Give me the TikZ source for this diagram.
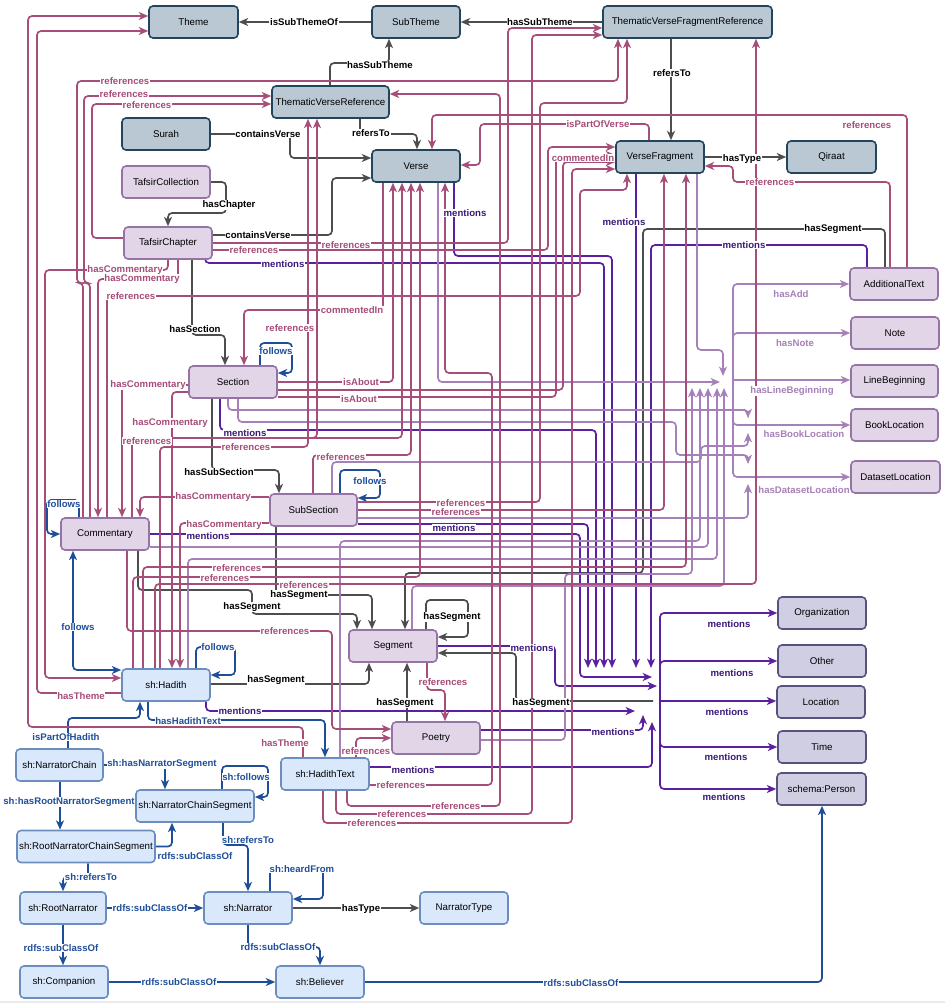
\documentclass[tikz,border=0pt]{standalone}
\usepackage{fontspec}
\setmainfont{Liberation Sans}
\usetikzlibrary{arrows.meta}
\pgfdeclarelayer{back0}
\pgfdeclarelayer{background}
\pgfsetlayers{back0,background,main}
\definecolor{cg}{HTML}{4D4D4D}
\definecolor{cr}{HTML}{A64D79}
\definecolor{cm}{HTML}{5B20A0}
\definecolor{cmt}{HTML}{3B1A7A}
\definecolor{cl}{HTML}{A680B8}
\definecolor{cb}{HTML}{1F4E99}
\definecolor{bgF}{HTML}{BAC8D3}\definecolor{bgD}{HTML}{23445D}
\definecolor{puF}{HTML}{E1D5E7}\definecolor{puD}{HTML}{9673A6}
\definecolor{lbF}{HTML}{DAE8FC}\definecolor{lbD}{HTML}{6C8EBF}
\definecolor{enF}{HTML}{D0CEE2}\definecolor{enD}{HTML}{56517E}
\definecolor{stripc}{HTML}{EBEBEB}
\newcommand\ndfont{\fontsize{7.3}{8.6}\selectfont}
\newcommand\lbfont{\fontsize{7.2}{8.6}\selectfont\bfseries}
\tikzset{
  nbox/.style={rounded corners=3pt, line width=1.2pt, minimum height=24pt, inner sep=1pt, font=\ndfont, text=black},
  bgn/.style={nbox, draw=bgD, fill=bgF},
  pun/.style={nbox, draw=puD, fill=puF},
  lbn/.style={nbox, draw=lbD, fill=lbF},
  enn/.style={nbox, draw=enD, fill=enF},
  tipx/.tip={Stealth[length=7pt,width=6pt,inset=2pt]},
  cn/.style={line width=1.25pt, rounded corners=3pt, -tipx},
  eg/.style={cn, draw=cg},
  er/.style={cn, draw=cr},
  em/.style={cn, draw=cm},
  el/.style={cn, draw=cl},
  eb/.style={cn, draw=cb},
  lab/.style={fill=white, inner sep=0.5pt, font=\lbfont},
  lg/.style={lab, text=black},
  lr/.style={lab, text=cr},
  lm/.style={lab, text=cmt},
  ll/.style={lab, text=cl},
  lbb/.style={lab, text=cb}
}
\begin{document}
\begin{tikzpicture}[x=0.75pt,y=-0.75pt]
\useasboundingbox (0,0) rectangle (945,1003);
\begin{pgfonlayer}{back0}
\fill[white] (0,0) rectangle (945,1003);
\fill[stripc] (0,1000.5) rectangle (945,1003);
\end{pgfonlayer}
% ---------- nodes ----------
\node[bgn, minimum width=66.75pt] (Theme) at (193.5,22) {Theme};
\node[bgn, minimum width=66pt] (SubTheme) at (416,22) {SubTheme};
\node[bgn, minimum width=126.75pt] (TVFR) at (687.5,22) {ThematicVerseFragmentReference};
\node[bgn, minimum width=87.75pt] (TVR) at (330.5,102) {ThematicVerseReference};
\node[bgn, minimum width=66pt] (Surah) at (166,134) {Surah};
\node[bgn, minimum width=66pt] (Verse) at (416,166) {Verse};
\node[bgn, minimum width=66pt] (VF) at (660,157) {VerseFragment};
\node[bgn, minimum width=66.75pt] (Qiraat) at (831.5,157) {Qiraat};
\node[pun, minimum width=66pt] (TafsirCollection) at (166,182) {TafsirCollection};
\node[pun, minimum width=66pt] (TafsirChapter) at (168,243) {TafsirChapter};
\node[pun, minimum width=66pt] (AdditionalText) at (894,284) {AdditionalText};
\node[pun, minimum width=66pt] (Note) at (895,333) {Note};
\node[pun, minimum width=65.25pt] (LineBeginning) at (894.5,381) {LineBeginning};
\node[pun, minimum width=65.25pt] (BookLocation) at (894.5,425) {BookLocation};
\node[pun, minimum width=66.75pt] (DatasetLocation) at (895.5,477) {DatasetLocation};
\node[pun, minimum width=66pt] (Section) at (233,382) {Section};
\node[pun, minimum width=65.25pt] (SubSection) at (313.5,510) {SubSection};
\node[pun, minimum width=66pt] (Commentary) at (105,534) {Commentary};
\node[pun, minimum width=66pt] (Segment) at (393,646) {Segment};
\node[pun, minimum width=66pt] (Poetry) at (436,738) {Poetry};
\node[lbn, minimum width=66pt] (Hadith) at (166,685) {sh:Hadith};
\node[lbn, minimum width=66pt] (HadithText) at (325,774) {sh:HadithText};
\node[lbn, minimum width=65.25pt] (NarratorChain) at (59.5,765) {sh:NarratorChain};
\node[lbn, minimum width=88.5pt] (NCS) at (195,806) {sh:NarratorChainSegment};
\node[lbn, minimum width=103.5pt] (RNCS) at (86,846.5) {sh:RootNarratorChainSegment};
\node[lbn, minimum width=64.5pt] (RootNarrator) at (63,908) {sh:RootNarrator};
\node[lbn, minimum width=66pt] (Narrator) at (248,908) {sh:Narrator};
\node[lbn, minimum width=66pt] (NarratorType) at (464,908) {NarratorType};
\node[lbn, minimum width=66pt] (Companion) at (64,982) {sh:Companion};
\node[lbn, minimum width=66pt] (Believer) at (320,982) {sh:Believer};
\node[enn, minimum width=66pt] (Organization) at (822,613) {Organization};
\node[enn, minimum width=66pt] (Other) at (822,661) {Other};
\node[enn, minimum width=66pt] (Location) at (821,702) {Location};
\node[enn, minimum width=66pt] (Time) at (822,747) {Time};
\node[enn, minimum width=66.75pt] (Person) at (821.5,789) {schema:Person};
% hub and free ends
\coordinate (hubM) at (660,701);
\coordinate (hubL) at (733,380);
\coordinate (hubS) at (653,701);
\coordinate (m1) at (612,668);
\coordinate (m2) at (604,668);
\coordinate (m3) at (596,668);
\coordinate (m4) at (588,668);
\coordinate (m5) at (652,677);
\coordinate (m6) at (636,668);
\coordinate (m7) at (651,668);
\coordinate (m8) at (657,686);
\coordinate (m9) at (635,711);
\coordinate (m10) at (643,715);
\coordinate (m11) at (652,722);
\coordinate (v1) at (720,382);
\coordinate (v2) at (723,376);
\coordinate (v3) at (748,418);
\coordinate (v4) at (748,464);
\coordinate (v5) at (748,433);
\coordinate (v6) at (748,484);
\coordinate (v7) at (692,388);
\coordinate (v8) at (700,388);
\coordinate (v9) at (708,388);
\coordinate (v10) at (717,388);
\coordinate (v11) at (724,388);
\begin{pgfonlayer}{background}
% ---------- gray ----------
\draw[eg] (SubTheme.west) -- (Theme.east);
\draw[eg] (TVFR.west) -- (SubTheme.east);
\draw[eg] (TVR.north -| 330,0) -- (330,63) -- (389,63) -- (SubTheme.south -| 389,0);
\draw[eg] (TVFR.south -| 671,0) -- (VF.north -| 671,0);
\draw[eg] (TVR.south -| 360,0) -- (360,134) -- (417,134) -- (Verse.north -| 417,0);
\draw[eg] (Surah.east) -- (290,134) -- (290,158) -- (Verse.west |- 0,158);
\draw[eg] (TafsirCollection.east) -- (226,182) -- (226,213) -- (168,213) -- (TafsirChapter.north);
\draw[eg] (TafsirChapter.east |- 0,235) -- (332,235) -- (332,178) -- (Verse.west |- 0,178);
\draw[eg] (TafsirChapter.south -| 192,0) -- (192,335) -- (225,335) -- (Section.north -| 225,0);
\draw[eg] (Section.south -| 212,0) -- (212,470) -- (279,470) -- (SubSection.north -| 279,0);
\draw[eg] (SubSection.south -| 276,0) -- (276,595) -- (372,595) -- (Segment.north -| 372,0);
\draw[eg] (Commentary.south -| 138,0) -- (138,590) -- (252,590) -- (252,614) -- (357,614) -- (Segment.north -| 357,0);
\draw[eg] (Hadith.east |- 0,684) -- (369,684) -- (Segment.south -| 369,0);
\draw[eg] (Poetry.north -| 407,0) -- (Segment.south -| 407,0);
\draw[eg] (Segment.north -| 426,0) -- (426,600) -- (468,600) -- (468,637) -- (Segment.east |- 0,637);
\draw[eg] (hubS) -- (516,701) -- (516,653) -- (Segment.east |- 0,653);
\draw[eg] (AdditionalText.north -| 885,0) -- (885,229) -- (643,229) -- (643,573) -- (405,573) -- (Segment.north -| 405,0);
\draw[eg] (Narrator.east) -- (NarratorType.west);
\draw[eg] (VF.east) -- (Qiraat.west);
% ---------- blue ----------
\draw[eb] (Section.north -| 260,0) -- (260,343) -- (292,343) -- (292,373) -- (Section.east |- 0,373);
\draw[eb] (SubSection.north -| 340,0) -- (340,470) -- (380,470) -- (380,498) -- (SubSection.east |- 0,498);
\draw[eb] (Commentary.north -| 79,0) -- (79,500) -- (47,500) -- (47,534) -- (Commentary.west);
\draw[eb, tipx-tipx] (Commentary.south -| 73,0) -- (73,670) -- (Hadith.west |- 0,670);
\draw[eb] (Hadith.north -| 196,0) -- (196,647) -- (235,647) -- (235,675) -- (Hadith.east |- 0,675);
\draw[eb] (Hadith.south -| 148,0) -- (148,720) -- (325,720) -- (HadithText.north);
\draw[eb] (NarratorChain.north -| 68,0) -- (68,718) -- (140,718) -- (Hadith.south -| 140,0);
\draw[eb] (NarratorChain.east) -- (165,765) -- (NCS.north -| 165,0);
\draw[eb] (NCS.north -| 222,0) -- (222,766) -- (268,766) -- (268,797) -- (NCS.east |- 0,797);
\draw[eb] (NarratorChain.south -| 60,0) -- (RNCS.north -| 60,0);
\draw[eb] (RNCS.east) -- (172,846.5) -- (NCS.south -| 172,0);
\draw[eb] (NCS.south -| 223,0) -- (223,845) -- (248,845) -- (Narrator.north);
\draw[eb] (RNCS.south -| 88,0) -- (88,877) -- (63,877) -- (RootNarrator.north);
\draw[eb] (Narrator.north -| 270,0) -- (270,868) -- (323,868) -- (323,899) -- (Narrator.east |- 0,899);
\draw[eb] (RootNarrator.east) -- (Narrator.west);
\draw[eb] (RootNarrator.south) -- (Companion.north -| 63,0);
\draw[eb] (Narrator.south) -- (248,947) -- (320,947) -- (Believer.north);
\draw[eb] (Companion.east) -- (Believer.west);
\draw[eb] (Believer.east) -- (822,982) -- (Person.south -| 822,0);
% ---------- mentions ----------
\draw[em] (Verse.south -| 454,0) -- (454,256) -- (612,256) -- (m1);
\draw[em] (TafsirChapter.south -| 205,0) -- (205,263) -- (604,263) -- (m2);
\draw[em] (Section.south -| 220,0) -- (220,430) -- (596,430) -- (m3);
\draw[em] (SubSection.east |- 0,524) -- (588,524) -- (m4);
\draw[em] (Commentary.east) -- (580,534) -- (580,677) -- (m5);
\draw[em] (VF.south -| 636,0) -- (m6);
\draw[em] (AdditionalText.north -| 867,0) -- (867,245) -- (651,245) -- (m7);
\draw[em] (Segment.east |- 0,646) -- (555,646) -- (555,686) -- (m8);
\draw[em] (Hadith.south -| 206,0) -- (206,711) -- (m9);
\draw[em] (Poetry.east |- 0,730) -- (643,730) -- (m10);
\draw[em] (HadithText.east |- 0,767) -- (652,767) -- (m11);
\draw[em] (hubM) -- (660,613) -- (Organization.west);
\draw[em] (hubM) -- (660,661) -- (Other.west);
\draw[em] (hubM) -- (Location.west |- hubM);
\draw[em] (hubM) -- (660,747) -- (Time.west);
\draw[em] (hubM) -- (660,789) -- (Person.west);
% ---------- lavender ----------
\draw[el] (Verse.south -| 438,0) -- (438,382) -- (v1);
\draw[el] (VF.south -| 697,0) -- (697,350) -- (723,350) -- (v2);
\draw[el] (Section.south -| 228,0) -- (228,410) -- (748,410) -- (v3);
\draw[el] (Section.south -| 238,0) -- (238,422) -- (676,422) -- (676,455) -- (748,455) -- (v4);
\draw[el] (SubSection.north -| 332,0) -- (332,462) -- (701,462) -- (701,446) -- (748,446) -- (v5);
\draw[el] (SubSection.east |- 0,518) -- (748,518) -- (v6);
\draw[el] (Poetry.east |- 0,740) -- (565,740) -- (565,574) -- (692,574) -- (v7);
\draw[el] (HadithText.north -| 340,0) -- (340,541) -- (700,541) -- (v8);
\draw[el] (Commentary.east |- 0,547) -- (708,547) -- (v9);
\draw[el] (Hadith.north -| 188,0) -- (188,559) -- (717,559) -- (v10);
\draw[el] (Segment.north -| 412,0) -- (412,586) -- (724,586) -- (v11);
\draw[el] (hubL) -- (733,284) -- (AdditionalText.west);
\draw[el] (hubL) -- (733,333) -- (Note.west);
\draw[el] (hubL) -- (LineBeginning.west |- hubL);
\draw[el] (hubL) -- (733,425) -- (BookLocation.west);
\draw[el] (hubL) -- (733,477) -- (DatasetLocation.west);
% ---------- magenta ----------
\draw[er] (HadithText.north -| 303,0) -- (303,727) -- (28,727) -- (28,16) -- (Theme.west |- 0,16);
\draw[er] (Hadith.west |- 0,693) -- (37,693) -- (37,31) -- (Theme.west |- 0,31);
\draw[er] (Commentary.north -| 83,0) -- (83,283) -- (77,283) -- (77,81) -- (618,81) -- (TVFR.south -| 618,0);
\draw[er] (Commentary.north -| 90,0) -- (90,283) -- (84,283) -- (84,96) -- (TVR.west |- 0,96);
\draw[er] (TafsirChapter.west |- 0,238) -- (92,238) -- (92,104) -- (TVR.west |- 0,104);
\draw[er] (TafsirChapter.east |- 0,243) -- (508,243) -- (508,28) -- (TVFR.west |- 0,28);
\draw[er] (TafsirChapter.east |- 0,250) -- (548,250) -- (548,147) -- (VF.west |- 0,147);
\draw[er] (Commentary.north -| 107,0) -- (107,296) -- (580,296) -- (580,190) -- (627,190) -- (VF.south -| 627,0);
\draw[er] (TafsirChapter.south -| 178,0) -- (178,279) -- (98,279) -- (Commentary.north -| 98,0);
\draw[er] (TafsirChapter.south -| 168,0) -- (168,270) -- (45,270) -- (45,678) -- (Hadith.west |- 0,678);
\draw[er] (Section.west |- 0,385) -- (122,385) -- (Commentary.north -| 122,0);
\draw[er] (Section.west |- 0,392) -- (172,392) -- (Hadith.north -| 172,0);
\draw[er] (Commentary.north -| 132,0) -- (132,438) -- (402,438) -- (Verse.south -| 402,0);
\draw[er] (Commentary.north -| 132,0) -- (132,438) -- (317,438) -- (TVR.south -| 317,0);
\draw[er] (Hadith.north -| 160,0) -- (160,447) -- (308,447) -- (TVR.south -| 308,0);
\draw[er] (SubSection.west |- 0,497) -- (140,497) -- (Commentary.north -| 140,0);
\draw[er] (SubSection.west |- 0,523) -- (180,523) -- (Hadith.north -| 180,0);
\draw[er] (Section.east |- 0,382) -- (393,382) -- (Verse.south -| 393,0);
\draw[er] (Section.east |- 0,397) -- (556,397) -- (556,155) -- (VF.west |- 0,155);
\draw[er] (Section.east |- 0,390) -- (563,390) -- (563,162) -- (VF.west |- 0,162);
\draw[er] (SubSection.east |- 0,502) -- (540,502) -- (540,103) -- (627,103) -- (TVFR.south -| 627,0);
\draw[er] (SubSection.east |- 0,510) -- (664,510) -- (VF.south -| 664,0);
\draw[er] (SubSection.north -| 313,0) -- (313,455) -- (411,455) -- (Verse.south -| 411,0);
\draw[er] (Verse.south -| 383,0) -- (383,310) -- (244,310) -- (Section.north -| 244,0);
\draw[er] (AdditionalText.north -| 907,0) -- (907,115) -- (432,115) -- (Verse.north -| 432,0);
\draw[er] (AdditionalText.north -| 890,0) -- (890,182) -- (733,182) -- (733,166) -- (VF.east |- 0,166);
\draw[er] (VF.north -| 649,0) -- (649,124) -- (480,124) -- (480,165) -- (Verse.east |- 0,165);
\draw[er] (Commentary.south -| 127,0) -- (127,631) -- (332,631) -- (332,729) -- (Poetry.west |- 0,729);
\draw[er] (HadithText.north -| 356,0) -- (356,738) -- (Poetry.west |- 0,738);
\draw[er] (Segment.south -| 427,0) -- (427,690) -- (445,690) -- (Poetry.north -| 445,0);
\draw[er] (HadithText.east |- 0,785) -- (492,785) -- (492,373) -- (445,373) -- (Verse.south -| 445,0);
\draw[er] (HadithText.south -| 347,0) -- (347,806) -- (500,806) -- (500,94) -- (TVR.east |- 0,94);
\draw[er] (HadithText.south -| 336,0) -- (336,814) -- (532,814) -- (532,35) -- (TVFR.west |- 0,35);
\draw[er] (HadithText.south -| 323,0) -- (323,823) -- (572,823) -- (572,169) -- (VF.west |- 0,169);
\draw[er] (Hadith.north -| 133,0) -- (133,577) -- (420,577) -- (Verse.south -| 420,0);
\draw[er] (Hadith.north -| 143,0) -- (143,567) -- (686,567) -- (VF.south -| 686,0);
\draw[er] (Hadith.north -| 155,0) -- (155,584) -- (756,584) -- (TVFR.south -| 756,0);
\end{pgfonlayer}
% ---------- labels ----------
\node[lg] (g1) at (304,22) {isSubThemeOf};
\node[lg] (g2) at (540,22) {hasSubTheme};
\node[lg] (g3) at (380,65) {hasSubTheme};
\node[lg] (g4) at (672,73) {refersTo};
\node[lg] (g5) at (371,133) {refersTo};
\node[lg] (g6) at (268,134) {containsVerse};
\node[lg] (g7) at (229,205) {hasChapter};
\node[lg] (g8) at (258,235) {containsVerse};
\node[lg] (g9) at (195,329) {hasSection};
\node[lg] (g10) at (219,472) {hasSubSection};
\node[lg] (g11) at (742,159) {hasType};
\node[lg] (g12) at (833,229) {hasSegment};
\node[lg] (g13) at (452,617) {hasSegment};
\node[lg] (g14) at (299,595) {hasSegment};
\node[lg] (g15) at (252,607) {hasSegment};
\node[lg] (g16) at (276,680) {hasSegment};
\node[lg] (g17) at (405,703) {hasSegment};
\node[lg] (g18) at (541,703) {hasSegment};
\node[lg] (g19) at (361,909) {hasType};
\node[lr] (r1) at (125,81) {references};
\node[lr] (r2) at (124,94) {references};
\node[lr] (r3) at (147,105) {references};
\node[lr] (r4) at (867,125) {references};
\node[lr] (r5) at (598,124) {isPartOfVerse};
\node[lr] (r6) at (583,158) {commentedIn};
\node[lr] (r7) at (770,182) {references};
\node[lr] (r8) at (346,245) {references};
\node[lr] (r9) at (254,250) {references};
\node[lr] (r10) at (125,270) {hasCommentary};
\node[lr] (r11) at (142,279) {hasCommentary};
\node[lr] (r12) at (131,296) {references};
\node[lr] (r13) at (352,310) {commentedIn};
\node[lr] (r14) at (290,328) {references};
\node[lr] (r15) at (361,382) {isAbout};
\node[lr] (r16) at (359,399) {isAbout};
\node[lr] (r17) at (148,385) {hasCommentary};
\node[lr] (r18) at (170,423) {hasCommentary};
\node[lr] (r19) at (147,441) {references};
\node[lr] (r20) at (246,447) {references};
\node[lr] (r21) at (341,457) {references};
\node[lr] (r22) at (213,497) {hasCommentary};
\node[lr] (r23) at (461,503) {references};
\node[lr] (r24) at (456,512) {references};
\node[lr] (r25) at (224,525) {hasCommentary};
\node[lr] (r26) at (237,568) {references};
\node[lr] (r27) at (225,578) {references};
\node[lr] (r28) at (304,585) {references};
\node[lr] (r29) at (285,631) {references};
\node[lr] (r30) at (443,682) {references};
\node[lr] (r31) at (81,696) {hasTheme};
\node[lr] (r32) at (285,743) {hasTheme};
\node[lr] (r33) at (366,751) {references};
\node[lr] (r34) at (401,785) {references};
\node[lr] (r35) at (456,806) {references};
\node[lr] (r36) at (402,814) {references};
\node[lr] (r37) at (372,823) {references};
\node[lm] (p1) at (465,213) {mentions};
\node[lm] (p2) at (624,222) {mentions};
\node[lm] (p3) at (744,245) {mentions};
\node[lm] (p4) at (283,264) {mentions};
\node[lm] (p5) at (245,433) {mentions};
\node[lm] (p6) at (454,528) {mentions};
\node[lm] (p7) at (208,536) {mentions};
\node[lm] (p8) at (532,648) {mentions};
\node[lm] (p9) at (240,711) {mentions};
\node[lm] (p10) at (613,732) {mentions};
\node[lm] (p11) at (413,770) {mentions};
\node[lm] (p12) at (729,624) {mentions};
\node[lm] (p13) at (732,673) {mentions};
\node[lm] (p14) at (727,712) {mentions};
\node[lm] (p15) at (726,757) {mentions};
\node[lm] (p16) at (724,797) {mentions};
\node[ll] (a1) at (791,294) {hasAdd};
\node[ll] (a2) at (795,343) {hasNote};
\node[ll] (a3) at (792,391) {hasLineBeginning};
\node[ll] (a4) at (804,434) {hasBookLocation};
\node[ll] (a5) at (804,490) {hasDatasetLocation};
\node[lbb] (b1) at (276,351) {follows};
\node[lbb] (b2) at (370,481) {follows};
\node[lbb] (b3) at (64,504) {follows};
\node[lbb] (b4) at (78,627) {follows};
\node[lbb] (b5) at (218,647) {follows};
\node[lbb] (b6) at (66,737) {isPartOfHadith};
\node[lbb] (b7) at (188,721) {hasHadithText};
\node[lbb] (b8) at (162,764) {sh:hasNarratorSegment};
\node[lbb] (b9) at (246,777) {sh:follows};
\node[lbb] (b10) at (69,802) {sh:hasRootNarratorSegment};
\node[lbb] (b11) at (248,840) {sh:refersTo};
\node[lbb] (b12) at (195,856) {rdfs:subClassOf};
\node[lbb] (b13) at (91,877) {sh:refersTo};
\node[lbb] (b14) at (302,869) {sh:heardFrom};
\node[lbb] (b15) at (150,908) {rdfs:subClassOf};
\node[lbb] (b16) at (278,947) {rdfs:subClassOf};
\node[lbb] (b17) at (61,948) {rdfs:subClassOf};
\node[lbb] (b18) at (179,982) {rdfs:subClassOf};
\node[lbb] (b19) at (581,983) {rdfs:subClassOf};
\end{tikzpicture}
\end{document}
